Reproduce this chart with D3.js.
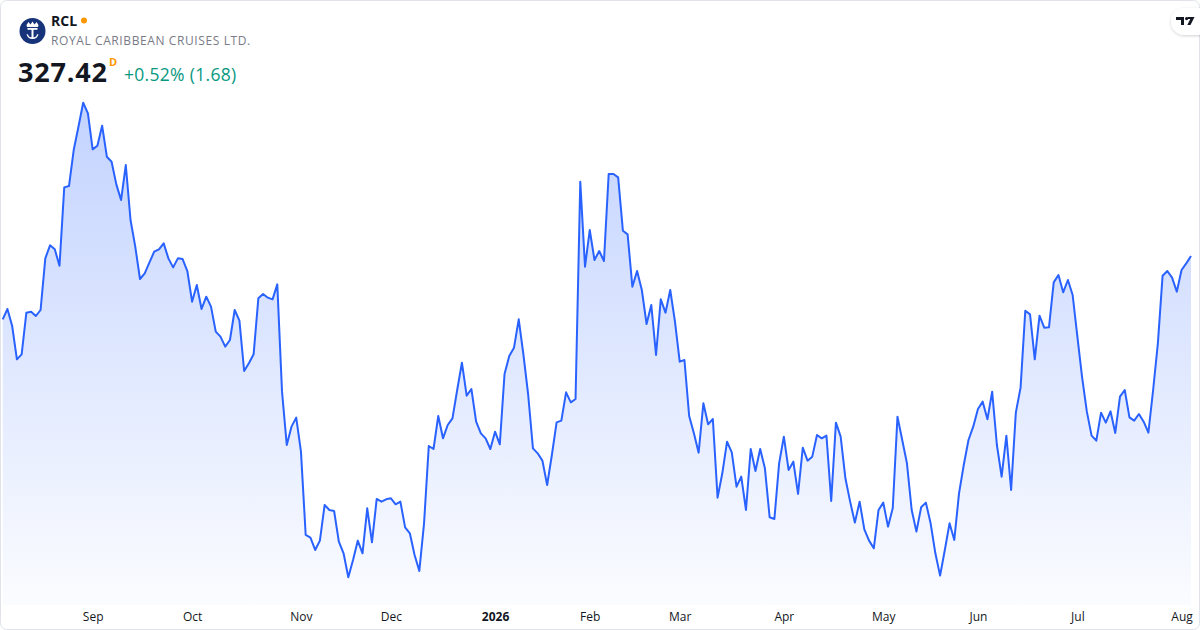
<!DOCTYPE html>
<html>
<head>
<meta charset="utf-8">
<script src="https://cdn.jsdelivr.net/npm/d3@7"></script>
<style>
  html, body { margin: 0; padding: 0; background: #fff; }
  svg { display: block; font-family: "Open Sans", "Noto Sans", sans-serif; }
</style>
</head>
<body>
<svg id="chart" width="1200" height="630"></svg>
<script>
// daily closes, RCL, one trading year
var closes = [
  308.42, 311.52, 306.42, 296.42, 297.92, 310.42, 310.72, 309.42, 311.22, 326.72,
  330.62, 329.42, 324.52, 348.02, 348.42, 359.22, 366.22, 373.42, 370.22, 359.42,
  360.52, 366.52, 357.22, 355.72, 348.92, 344.22, 354.72, 338.22, 330.22, 320.52,
  322.22, 325.52, 328.72, 329.42, 331.22, 326.72, 324.02, 326.72, 326.52, 322.92,
  313.72, 318.72, 311.52, 315.22, 312.22, 304.72, 303.22, 300.22, 302.22, 311.22,
  308.02, 292.92, 295.22, 297.92, 314.72, 316.02, 314.92, 314.42, 318.92, 286.72,
  270.72, 276.22, 278.92, 268.72, 243.72, 242.92, 239.22, 242.02, 252.72, 251.22,
  250.92, 241.72, 238.22, 231.02, 236.22, 242.02, 238.22, 251.72, 241.52, 254.52,
  253.72, 254.42, 254.72, 252.92, 253.72, 246.02, 244.22, 237.72, 232.92, 247.22,
  270.42, 269.52, 279.42, 272.72, 276.72, 278.72, 287.22, 295.42, 285.52, 287.52,
  277.72, 274.22, 272.72, 269.52, 274.72, 270.92, 292.02, 297.42, 299.92, 308.42,
  297.72, 285.72, 269.72, 268.22, 266.02, 258.72, 267.72, 277.52, 278.02, 286.52,
  283.52, 284.52, 349.72, 324.22, 335.22, 326.22, 328.92, 325.92, 352.02, 352.02,
  351.02, 335.02, 333.92, 318.22, 322.92, 317.22, 307.02, 312.72, 297.72, 314.42,
  310.42, 317.22, 307.72, 295.72, 296.22, 279.42, 274.22, 268.42, 283.22, 276.92,
  278.52, 254.92, 262.22, 271.72, 268.52, 258.22, 261.22, 251.22, 269.52, 262.92,
  269.52, 263.72, 249.02, 248.52, 265.22, 273.22, 263.22, 265.72, 256.02, 269.92,
  266.02, 267.22, 273.72, 272.72, 273.52, 253.92, 277.42, 273.22, 260.72, 253.72,
  247.42, 253.72, 245.42, 242.02, 239.72, 251.22, 253.42, 246.22, 251.72, 279.22,
  272.22, 265.22, 251.22, 244.72, 252.02, 253.42, 247.22, 238.22, 231.52, 239.22,
  247.22, 242.22, 256.22, 264.72, 272.22, 276.22, 281.52, 283.72, 278.42, 286.72,
  270.72, 261.22, 273.52, 257.22, 280.42, 287.92, 311.02, 309.92, 296.42, 309.52,
  305.92, 306.02, 319.52, 321.72, 316.52, 320.22, 315.72, 303.22, 291.02, 280.72,
  273.52, 272.02, 280.42, 277.42, 280.82, 274.32, 285.22, 287.22, 279.02, 278.02,
  280.02, 277.72, 274.42, 287.22, 301.22, 321.52, 322.92, 320.92, 316.72, 323.22,
  325.22, 327.42
];

// month labels and the bar index they sit on
var tickLabels = ["Sep", "Oct", "Nov", "Dec", "2026", "Feb", "Mar", "Apr", "May", "Jun", "Jul", "Aug"];
var tickIndex  = [19, 40, 63, 82, 104, 124, 143, 165, 186, 206, 227, 249];

var symbol = "RCL";
var company = "ROYAL CARIBBEAN CRUISES LTD.";
var lastPrice = "327.42";
var change = "+0.52% (1.68)";

var svg = d3.select("#chart");

// card frame
svg.append("rect")
  .attr("x", 0.5).attr("y", 0.5)
  .attr("width", 1199).attr("height", 629)
  .attr("rx", 6)
  .attr("fill", "#fff")
  .attr("stroke", "#e0e3eb");

var x = d3.scaleLinear()
  .domain([0, closes.length - 1])
  .range([2.7, 1191]);

var y = d3.scaleLinear()
  .domain(d3.extent(closes))
  .range([577.3, 102.7]);

var bottom = 605;

var defs = svg.append("defs");
var grad = defs.append("linearGradient")
  .attr("id", "fillGrad")
  .attr("gradientUnits", "userSpaceOnUse")
  .attr("x1", 0).attr("y1", y.range()[1])
  .attr("x2", 0).attr("y2", bottom);
grad.append("stop").attr("offset", "0%").attr("stop-color", "#2962ff").attr("stop-opacity", 0.28);
grad.append("stop").attr("offset", "100%").attr("stop-color", "#2962ff").attr("stop-opacity", 0.02);

var area = d3.area()
  .x(function(d, i) { return x(i); })
  .y0(bottom)
  .y1(function(d) { return y(d); });

var line = d3.line()
  .x(function(d, i) { return x(i); })
  .y(function(d) { return y(d); });

svg.append("path")
  .datum(closes)
  .attr("d", area)
  .attr("fill", "url(#fillGrad)");

svg.append("path")
  .datum(closes)
  .attr("d", line)
  .attr("fill", "none")
  .attr("stroke", "#2962ff")
  .attr("stroke-width", 2)
  .attr("stroke-linejoin", "round");

// x axis labels
var xAxis = d3.axisBottom(x)
  .tickValues(tickIndex)
  .tickSize(0)
  .tickPadding(0)
  .tickFormat(function(d, i) { return tickLabels[i]; });

var gx = svg.append("g")
  .attr("transform", "translate(0,612)")
  .call(xAxis);
gx.select(".domain").remove();
gx.selectAll("text")
  .attr("fill", "#131722")
  .attr("font-size", 12)
  .attr("font-family", "'Open Sans', 'Noto Sans', sans-serif")
  .attr("font-weight", function(d, i) { return tickLabels[i] === "2026" ? 700 : 400; });

// header
var head = svg.append("g");
head.append("circle").attr("cx", 32.5).attr("cy", 31).attr("r", 13).attr("fill", "#17337a");
// crown + anchor glyph
var logo = head.append("g").attr("transform", "translate(32.5,31)").attr("fill", "#fff");
logo.append("path").attr("d", "M-6,-6 L-4,-9 L-2,-6.5 L0,-9.5 L2,-6.5 L4,-9 L6,-6 L5.5,-4 L-5.5,-4 Z");
logo.append("rect").attr("x", -5).attr("y", -3).attr("width", 10).attr("height", 1.8);
logo.append("rect").attr("x", -1).attr("y", -2).attr("width", 2).attr("height", 9);
logo.append("path").attr("d", "M-6,3 Q-5,8 0,8 Q5,8 6,3 L4.4,3.4 Q4,6.3 0,6.3 Q-4,6.3 -4.4,3.4 Z");

head.append("text")
  .attr("x", 51).attr("y", 26)
  .attr("font-size", 14).attr("font-weight", 700)
  .attr("fill", "#131722")
  .text(symbol);
head.append("circle").attr("cx", 84).attr("cy", 20.5).attr("r", 3).attr("fill", "#ff9800");

head.append("text")
  .attr("x", 51).attr("y", 45)
  .attr("font-size", 12)
  .attr("letter-spacing", 0.6)
  .attr("fill", "#787b86")
  .text(company);

head.append("text")
  .attr("x", 18).attr("y", 82)
  .attr("font-size", 27).attr("font-weight", 700)
  .attr("letter-spacing", 0.8)
  .attr("fill", "#131722")
  .text(lastPrice);
head.append("text")
  .attr("x", 109).attr("y", 66)
  .attr("font-size", 11).attr("font-weight", 700)
  .attr("fill", "#ff9800")
  .text("D");
head.append("text")
  .attr("x", 124).attr("y", 81)
  .attr("font-size", 17.5)
  .attr("letter-spacing", 0.3)
  .attr("fill", "#089981")
  .text(change);

// tradingview badge
defs.append("filter").attr("id", "sh")
  .append("feDropShadow")
  .attr("dx", 0).attr("dy", 1).attr("stdDeviation", 1.5)
  .attr("flood-color", "#000").attr("flood-opacity", 0.18);
var badge = svg.append("g");
badge.append("rect")
  .attr("x", 1171).attr("y", 8).attr("width", 44).attr("height", 27).attr("rx", 13.5)
  .attr("fill", "#fff").attr("filter", "url(#sh)");
badge.append("path")
  .attr("fill", "#131722")
  .attr("d", "M1176,17 h8 v8 h-3 v-5 h-5 Z M1187.5,17 h7 l-4,8 h-3.2 l3,-6 h-2.8 Z");
badge.append("circle").attr("cx", 1186.6).attr("cy", 18.6).attr("r", 1.6).attr("fill", "#131722");
</script>
</body>
</html>
